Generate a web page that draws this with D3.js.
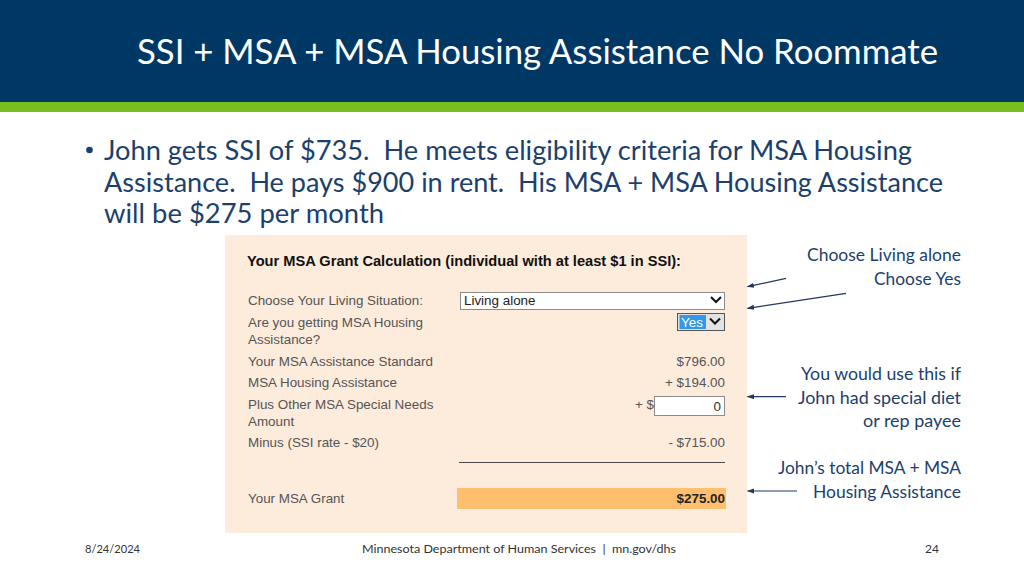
<!DOCTYPE html>
<html><head><meta charset="utf-8">
<script src="https://cdn.jsdelivr.net/npm/d3@7"></script>
<style>html,body{margin:0;padding:0;background:#fff;}svg{display:block;}svg text{white-space:pre;}</style>
</head><body>
<svg id="c" width="1024" height="576"></svg>
<script>
// ---------- content ----------
const titleText = "SSI + MSA + MSA Housing Assistance No Roommate";
const bulletLines = [
  "John gets SSI of $735.  He meets eligibility criteria for MSA Housing",
  "Assistance.  He pays $900 in rent.  His MSA + MSA Housing Assistance",
  "will be $275 per month"
];
const formHeading = "Your MSA Grant Calculation (individual with at least $1 in SSI):";
const formLabels = [
  ["Choose Your Living Situation:"],
  ["Are you getting MSA Housing", "Assistance?"],
  ["Your MSA Assistance Standard"],
  ["MSA Housing Assistance"],
  ["Plus Other MSA Special Needs", "Amount"],
  ["Minus (SSI rate - $20)"]
];
const livingChoice = "Living alone";
const housingChoice = "Yes";
const standardAmount = 796;
const housingAmount = 194;
const specialNeedsAmount = 0;
const ssiDeduction = 715;
const grantLabel = "Your MSA Grant";
const grantAmount = 275;
const noteGroups = [
  ["Choose Living alone", "Choose Yes"],
  ["You would use this if", "John had special diet", "or rep payee"],
  ["John\u2019s total MSA + MSA", "Housing Assistance"]
];
const footerDate = "8/24/2024";
const footerCenter = "Minnesota Department of Human Services  |  mn.gov/dhs";
const footerPage = "24";

// ---------- layout ----------
const navy = "#003865", green = "#78be20", textBlue = "#1c3f6e";
const calibri = "Lato, 'Open Sans', sans-serif";
const arial = "'Liberation Sans', Arial, sans-serif";
const fs = 13.4;
const svg = d3.select("#c");
const fmt = d3.format(",.2f");

function fit(sel, w) {
  sel.each(function() {
    const n = this.getComputedTextLength();
    if (n > 0 && w) d3.select(this).attr("textLength", w).attr("lengthAdjust", "spacingAndGlyphs");
  });
  return sel;
}

// header
svg.append("rect").attr("x", 0).attr("y", 0).attr("width", 1024).attr("height", 102).attr("fill", navy);
svg.append("rect").attr("x", 0).attr("y", 102).attr("width", 1024).attr("height", 10).attr("fill", green);
fit(svg.append("text").attr("x", 137).attr("y", 64).attr("fill", "#fff")
  .attr("font-family", calibri).attr("font-size", 35).text(titleText), 801);

// bullet
svg.append("circle").attr("cx", 89.5).attr("cy", 150).attr("r", 3.3).attr("fill", textBlue);
const bulletW = [808, 839, 280];
const bulletY = d3.scaleLinear().domain([0, 1]).range([160, 191.5]);
svg.selectAll("text.bl").data(bulletLines).join("text").attr("class", "bl")
  .attr("x", 104).attr("y", (d, i) => bulletY(i))
  .attr("fill", textBlue).attr("font-family", calibri).attr("font-size", 27)
  .text(d => d)
  .each(function(d, i) { fit(d3.select(this), bulletW[i]); });

// form panel
const form = svg.append("g");
form.append("rect").attr("x", 225).attr("y", 235).attr("width", 522).attr("height", 298).attr("fill", "#fdebdc");
fit(form.append("text").attr("x", 247).attr("y", 266).attr("fill", "#111")
  .attr("font-family", arial).attr("font-weight", "bold").attr("font-size", 14.4).text(formHeading), 434);

const rowY = [305, 327, 366, 387, 409, 447];
formLabels.forEach((lines, i) => {
  lines.forEach((t, j) => {
    form.append("text").attr("x", 248).attr("y", rowY[i] + j * 17).attr("fill", "#555")
      .attr("font-family", arial).attr("font-size", fs).text(t);
  });
});

// dropdown 1
form.append("rect").attr("x", 460.5).attr("y", 292.5).attr("width", 264).attr("height", 17)
  .attr("fill", "#fff").attr("stroke", "#8c8c8c");
form.append("text").attr("x", 464).attr("y", 305).attr("fill", "#222")
  .attr("font-family", arial).attr("font-size", fs).text(livingChoice);
function chevron(cx, cy) {
  form.append("path").attr("d", d3.line()([[cx - 5, cy - 2.5], [cx, cy + 2.5], [cx + 5, cy - 2.5]]))
    .attr("fill", "none").attr("stroke", "#111").attr("stroke-width", 2);
}
chevron(716, 299.5);
// dropdown 2
form.append("rect").attr("x", 677.5).attr("y", 313.5).attr("width", 47).attr("height", 17)
  .attr("fill", "#e3e3e3").attr("stroke", "#555");
form.append("rect").attr("x", 679.5).attr("y", 315).attr("width", 26.5).attr("height", 14).attr("fill", "#3398e8");
form.append("text").attr("x", 681).attr("y", 327).attr("fill", "#fff")
  .attr("font-family", arial).attr("font-size", fs).text(housingChoice);
chevron(715, 321);

// values
const valTexts = [
  {y: rowY[2], t: "$" + fmt(standardAmount)},
  {y: rowY[3], t: "+ $" + fmt(housingAmount)},
  {y: rowY[5], t: "- $" + fmt(ssiDeduction)}
];
form.selectAll("text.val").data(valTexts).join("text").attr("class", "val")
  .attr("x", 725).attr("y", d => d.y).attr("text-anchor", "end").attr("fill", "#555")
  .attr("font-family", arial).attr("font-size", fs).text(d => d.t);
form.append("text").attr("x", 654).attr("y", rowY[4]).attr("text-anchor", "end").attr("fill", "#555")
  .attr("font-family", arial).attr("font-size", fs).text("+ $");
form.append("rect").attr("x", 654.5).attr("y", 396.5).attr("width", 70).attr("height", 19)
  .attr("fill", "#fff").attr("stroke", "#8c8c8c");
form.append("text").attr("x", 721).attr("y", 411).attr("text-anchor", "end").attr("fill", "#333")
  .attr("font-family", arial).attr("font-size", fs).text(String(specialNeedsAmount));

form.append("line").attr("x1", 459).attr("x2", 725).attr("y1", 462.5).attr("y2", 462.5)
  .attr("stroke", "#4a4a4a").attr("stroke-width", 1);

// grant row
form.append("rect").attr("x", 457).attr("y", 488).attr("width", 269).attr("height", 21).attr("fill", "#ffbf6e");
form.append("text").attr("x", 248).attr("y", 503).attr("fill", "#555")
  .attr("font-family", arial).attr("font-size", fs).text(grantLabel);
form.append("text").attr("x", 725).attr("y", 503).attr("text-anchor", "end").attr("fill", "#222")
  .attr("font-family", arial).attr("font-weight", "bold").attr("font-size", fs).text("$" + fmt(grantAmount));

// notes
const noteTop = [261, 380, 474];
const noteW = [[154, 87], [160, 163, 98], [183, 148]];
noteGroups.forEach((g, gi) => {
  g.forEach((t, j) => {
    fit(svg.append("text").attr("x", 961).attr("y", noteTop[gi] + j * 23.5).attr("text-anchor", "end")
      .attr("fill", textBlue).attr("font-family", calibri).attr("font-size", 17).text(t), noteW[gi][j]);
  });
});

// arrows
const defs = svg.append("defs");
defs.append("marker").attr("id", "ah").attr("viewBox", "0 0 10 10").attr("refX", 9).attr("refY", 5)
  .attr("markerWidth", 6).attr("markerHeight", 6).attr("orient", "auto")
  .append("path").attr("d", "M0,1.5 L10,5 L0,8.5 Z").attr("fill", "#1f3864");
const arrows = [
  [[786, 278.3], [747.5, 286.7]],
  [[846, 293.3], [747.5, 308.3]],
  [[786, 396.7], [747.5, 396.7]],
  [[797, 491], [747.5, 491]]
];
svg.selectAll("path.arr").data(arrows).join("path").attr("class", "arr")
  .attr("d", d => d3.line()(d)).attr("stroke", "#1f3864").attr("stroke-width", 1.2)
  .attr("fill", "none").attr("marker-end", "url(#ah)");

// footer
fit(svg.append("text").attr("x", 85).attr("y", 553).attr("fill", "#333")
  .attr("font-family", calibri).attr("font-size", 12).text(footerDate), 55);
fit(svg.append("text").attr("x", 362).attr("y", 553).attr("fill", "#333")
  .attr("font-family", calibri).attr("font-size", 12).text(footerCenter), 314);
svg.append("text").attr("x", 939).attr("y", 553).attr("text-anchor", "end").attr("fill", "#333")
  .attr("font-family", calibri).attr("font-size", 12).text(footerPage);
</script>
</body></html>
